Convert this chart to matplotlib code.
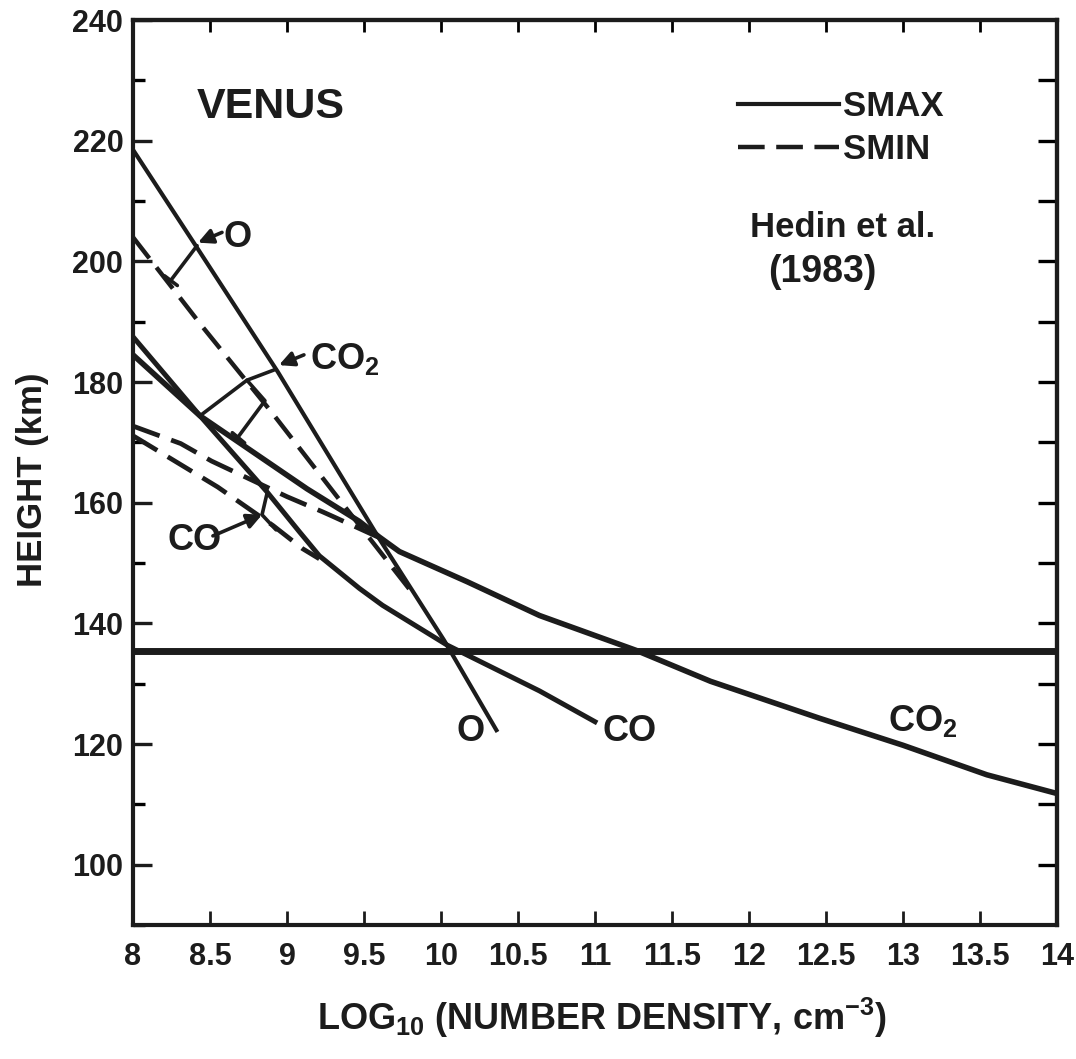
import numpy as np
import matplotlib
matplotlib.use('Agg')
import matplotlib.pyplot as plt
from matplotlib.ticker import MultipleLocator

# values read off the Hedin et al. (1983) Venus figure
# solid = SMAX, dashed = SMIN ; x = log10 density, y = height (km)
o_smax_x = [8.0, 8.42, 8.94, 9.60, 10.02, 10.36]
o_smax_y = [218.5, 202.1, 181.7, 154.0, 137.2, 122.3]
o_smin_x = [8.0, 8.45, 8.9, 9.38, 9.80]
o_smin_y = [204.0, 189.2, 175.0, 159.2, 145.5]

co2_smax_x = [8.0, 8.435, 9.13, 9.47, 9.60, 9.73, 10.17, 10.64, 11.27, 11.75, 12.455, 13.0, 13.545, 14.0]
co2_smax_y = [184.5, 174.4, 162.3, 156.9, 154.3, 151.9, 146.9, 141.3, 135.5, 130.4, 124.3, 119.8, 114.9, 111.8]
co2_smin_x = [8.0, 8.31, 8.51, 9.0, 9.23, 9.30, 9.60]
co2_smin_y = [172.7, 169.8, 166.9, 161.0, 158.5, 157.7, 154.2]

co_smax_x = [8.0, 8.435, 8.87, 9.08, 9.21, 9.47, 9.62, 10.04, 10.64, 11.0]
co_smax_y = [187.5, 174.4, 161.8, 155.2, 151.2, 145.8, 143.0, 136.4, 128.8, 123.7]
co_smin_x = [8.0, 8.55, 8.91, 9.10, 9.21]
co_smin_y = [171.1, 162.6, 156.2, 152.4, 150.7]

h_line = 135.5

x_ticks = np.arange(8, 14.01, 0.5)
x_labels = ['8', '8.5', '9', '9.5', '10', '10.5', '11', '11.5', '12', '12.5', '13', '13.5', '14']
y_ticks = np.arange(100, 241, 20)

# bracket / pointer sketches (data coords)
o_brk_x = [8.416, 8.247]
o_brk_y = [202.6, 196.9]
o_tick_x = [8.205, 8.288]
o_tick_y = [197.6, 196.0]
co2_brk_x = [8.435, 8.740, 8.916]
co2_brk_y = [174.4, 180.3, 182.0]
co2_brk2_x = [8.740, 8.857, 8.68]
co2_brk2_y = [180.3, 176.9, 170.8]
co2_tick_x = [8.645, 8.725]
co2_tick_y = [171.6, 169.9]
co_brk_x = [8.870, 8.838, 8.929]
co_brk_y = [161.5, 158.0, 155.5]

FONT = ['Liberation Sans', 'DejaVu Sans']
INK = '#1c1c1c'


def plot_venus():
    plt.rcParams['font.family'] = FONT
    plt.rcParams['font.weight'] = 'bold'
    plt.rcParams['axes.labelweight'] = 'bold'
    plt.rcParams['mathtext.default'] = 'regular'

    fig = plt.figure(figsize=(10.76, 10.59), dpi=100)
    ax = fig.add_axes([0.1236, 0.1265, 0.8587, 0.8546])
    dash = (0, (6, 2.6))

    ax.plot(o_smax_x, o_smax_y, c=INK, lw=3.0, label='SMAX')
    ax.plot(o_smin_x, o_smin_y, c=INK, lw=3.2, ls=dash, label='SMIN')
    ax.plot(co2_smax_x, co2_smax_y, c=INK, lw=4.0)
    ax.plot(co2_smin_x, co2_smin_y, c=INK, lw=3.4, ls=dash)
    ax.plot(co_smax_x, co_smax_y, c=INK, lw=3.6)
    ax.plot(co_smin_x, co_smin_y, c=INK, lw=3.4, ls=dash)
    ax.axhline(h_line, c=INK, lw=5.0)

    # brackets tying SMAX/SMIN pairs to their labels
    for bx, by in [(o_brk_x, o_brk_y), (o_tick_x, o_tick_y), (co2_brk_x, co2_brk_y),
                   (co2_brk2_x, co2_brk2_y), (co2_tick_x, co2_tick_y), (co_brk_x, co_brk_y)]:
        ax.plot(bx, by, c=INK, lw=2.6, solid_capstyle='round')
    arrow = dict(arrowstyle='-|>', color=INK, lw=2.6, mutation_scale=22, shrinkA=0, shrinkB=0)
    ax.annotate('', xy=(8.422, 203.1), xytext=(8.578, 204.8), arrowprops=arrow)
    ax.annotate('', xy=(8.948, 182.8), xytext=(9.11, 184.5), arrowprops=arrow)
    ax.annotate('', xy=(8.838, 158.0), xytext=(8.519, 154.5), arrowprops=arrow)

    lab = dict(fontsize=26, color=INK, va='baseline', ha='left')
    ax.text(8.585, 202.3, 'O', **lab)
    ax.text(9.149, 182.1, 'CO$_\\mathregular{2}$', **lab)
    ax.text(8.227, 152.1, 'CO', **lab)
    ax.text(10.104, 120.5, 'O', **lab)
    ax.text(11.052, 120.5, 'CO', **lab)
    ax.text(12.903, 122.1, 'CO$_\\mathregular{2}$', **lab)

    ax.text(8.416, 223.8, 'VENUS', fontsize=31, color=INK, va='baseline')
    ax.text(12.006, 204.1, 'Hedin et al.', fontsize=25, color=INK, va='baseline')
    ax.text(12.123, 196.5, '(1983)', fontsize=27, color=INK, va='baseline')

    leg = ax.legend(loc='upper left', bbox_to_anchor=(0.6548, 0.923), frameon=False,
                    handlelength=2.9, handletextpad=0.12, labelspacing=0.3,
                    borderpad=0, borderaxespad=0,
                    prop=dict(family=FONT, weight='bold', size=25))
    for t in leg.get_texts():
        t.set_color(INK)

    ax.set_xlim(8, 14)
    ax.set_ylim(90, 240)
    ax.set_xticks(x_ticks, x_labels)
    ax.set_yticks(y_ticks)
    ax.yaxis.set_minor_locator(MultipleLocator(10))
    ax.tick_params(axis='x', direction='in', length=10, width=2, pad=12, labelsize=22,
                   colors=INK)
    ax.tick_params(axis='y', which='major', direction='in', length=14, width=2.4, pad=7,
                   labelsize=22, colors=INK)
    ax.tick_params(axis='y', which='minor', direction='in', length=8.5, width=2.4)
    for s in ax.spines.values():
        s.set_linewidth(3)
        s.set_color(INK)

    top = ax.secondary_xaxis('top')
    top.set_xticks(x_ticks[1:-1])
    top.tick_params(direction='in', length=8.5, width=2, labeltop=False)
    top.spines['top'].set_linewidth(3)
    right = ax.secondary_yaxis('right')
    right.set_yticks(np.arange(100, 231, 10))
    right.tick_params(direction='in', length=14, width=2.4, labelright=False)
    right.spines['right'].set_linewidth(3)

    ax.set_xlabel('LOG$_\\mathregular{10}$ (NUMBER DENSITY, cm$^\\mathregular{-3}$)',
                  fontsize=26, color=INK)
    ax.xaxis.set_label_coords(0.5076, -0.103)
    ax.xaxis.label.set_va('center')
    ax.set_ylabel('HEIGHT (km)', fontsize=25, color=INK)
    ax.yaxis.set_label_coords(-0.109, 0.492)
    ax.yaxis.label.set_va('center')

    fig.savefig('out.png', dpi=100)


plot_venus()
